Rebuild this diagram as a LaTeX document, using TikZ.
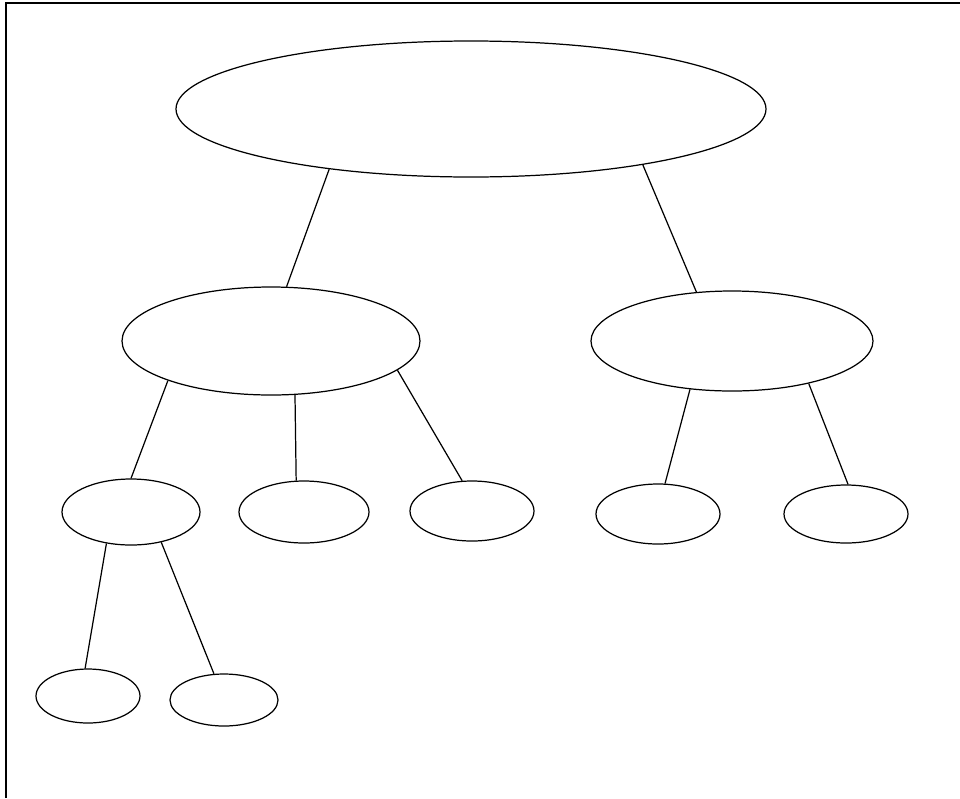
\documentclass[tikz,border=0pt]{standalone}
\usepackage{tikz}
\usetikzlibrary{shapes}

\begin{document}
\begin{tikzpicture}[
  line width=0.7pt,
  oval/.style={draw,ellipse,inner sep=0pt}
]
\useasboundingbox (0,0) rectangle (19.2,-15.96);
\draw (0.12,-15.96) |- (19.2,-0.06);
\node[oval,minimum width=11.8cm,minimum height=2.72cm] (r) at (9.42,-2.18) {};
\node[oval,minimum width=5.96cm,minimum height=2.16cm] (a) at (5.42,-6.82) {};
\node[oval,minimum width=5.64cm,minimum height=2.0cm] (b) at (14.64,-6.82) {};
\node[oval,minimum width=2.76cm,minimum height=1.32cm] (a1) at (2.62,-10.24) {};
\node[oval,minimum width=2.6cm,minimum height=1.24cm] (a2) at (6.08,-10.24) {};
\node[oval,minimum width=2.48cm,minimum height=1.2cm] (a3) at (9.44,-10.22) {};
\node[oval,minimum width=2.48cm,minimum height=1.2cm] (b1) at (13.16,-10.28) {};
\node[oval,minimum width=2.48cm,minimum height=1.16cm] (b2) at (16.92,-10.28) {};
\node[oval,minimum width=2.08cm,minimum height=1.08cm] (c1) at (1.76,-13.92) {};
\node[oval,minimum width=2.16cm,minimum height=1.04cm] (c2) at (4.48,-14.0) {};
\path (r.203) edge (a.74);
\path (r.342.3) edge (b.126);
\path (a.201) edge (a1.90);
\path (a.294) edge (a2.104);
\path (a.347) edge (a3.108);
\path (b.229) edge (b1.77);
\path (b.331) edge (b2.86);
\path (a1.232) edge (c1.96);
\path (a1.315) edge (c2.111);
\end{tikzpicture}
\end{document}
